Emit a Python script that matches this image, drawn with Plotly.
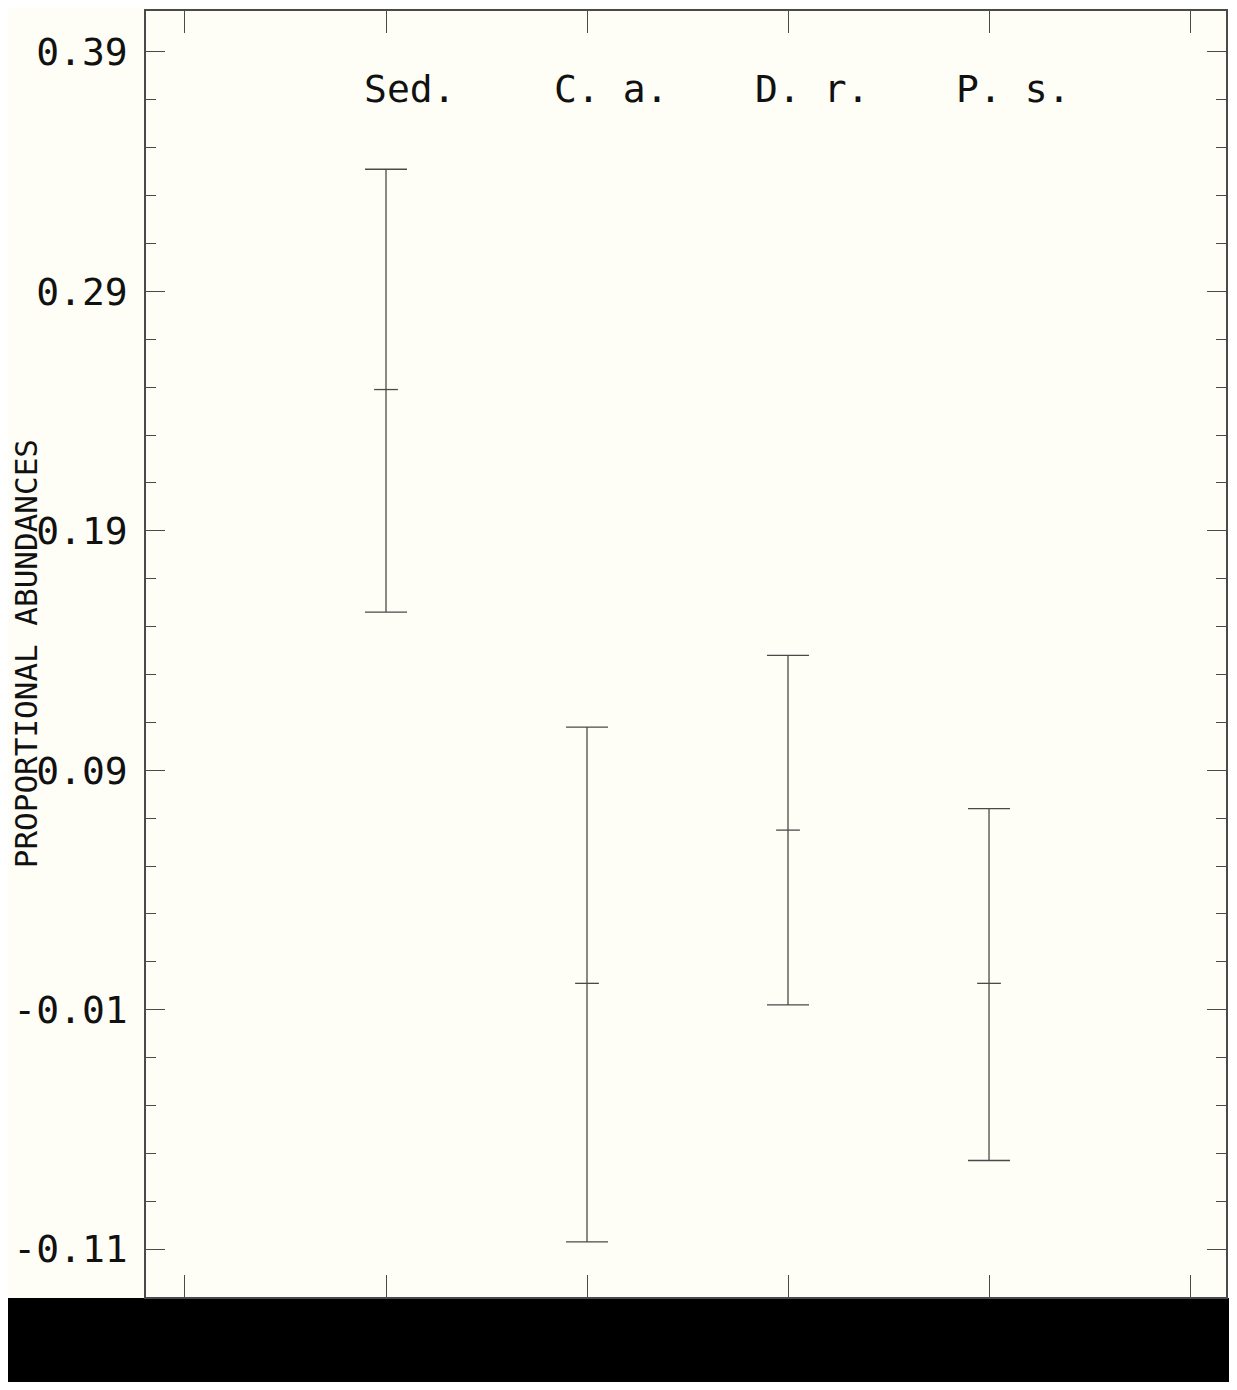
import plotly.graph_objects as go

# values
species = ["Sed.", "C. a.", "D. r.", "P. s."]
xpos = [1, 2, 3, 4]
means = [0.249, 0.001, 0.065, 0.001]
upper = [0.341, 0.108, 0.138, 0.074]
lower = [0.156, -0.107, -0.008, -0.073]

y_tickvals = [-0.11, -0.01, 0.09, 0.19, 0.29, 0.39]
y_ticktext = ["-0.11", "-0.01", "0.09", "0.19", "0.29", "0.39"]
x_tickvals = [0, 1, 2, 3, 4, 5]

ink = "#4a4a4a"
paper = "#fefef7"
mono = "DejaVu Sans Mono"

err_plus = [u - m for u, m in zip(upper, means)]
err_minus = [m - l for m, l in zip(means, lower)]

fig = go.Figure()
fig.add_trace(go.Scatter(
    x=xpos, y=means, mode="markers",
    marker=dict(symbol="line-ew", size=17, line=dict(color=ink, width=1.3)),
    error_y=dict(type="data", symmetric=False, array=err_plus, arrayminus=err_minus,
                 color=ink, thickness=1.3, width=21),
    showlegend=False, hoverinfo="skip"))

for x, name in zip(xpos, species):
    fig.add_annotation(x=x, y=0.3745, text=name, showarrow=False, xshift=24,
                       xanchor="center", yanchor="middle",
                       font=dict(family=mono, size=38, color="#111"))

# axis title sits right against the tick labels, as in the original plot
fig.add_annotation(xref="paper", yref="paper", x=-137 / 1082, y=0.5, xshift=-3,
                   text="PROPORTIONAL ABUNDANCES", textangle=-90, showarrow=False,
                   xanchor="left", yanchor="middle",
                   font=dict(family=mono, size=31, color="#111"))

# dark band at the bottom of the scan
fig.add_shape(type="rect", xref="paper", yref="paper", x0=-0.2, x1=1.1,
              y0=-0.08, y1=-0.0008, fillcolor="black", line_width=0, layer="below")

fig.update_xaxes(range=[-0.194, 5.179], tickmode="array", tickvals=x_tickvals,
                 showticklabels=False, ticks="inside", ticklen=22, tickwidth=1.3,
                 tickcolor=ink, showline=True, linecolor=ink, linewidth=1.5,
                 mirror="ticks", showgrid=False, zeroline=False)
fig.update_yaxes(range=[-0.13, 0.4071], tickmode="array", tickvals=y_tickvals,
                 ticktext=y_ticktext, ticks="inside", ticklen=19, tickwidth=1.3,
                 tickcolor=ink, showline=True, linecolor=ink, linewidth=1.5,
                 mirror="ticks", showgrid=False, zeroline=False,
                 ticklabelstandoff=9,
                 tickfont=dict(family=mono, size=38, color="#111"),
                 minor=dict(tickmode="linear", tick0=-0.11, dtick=0.02, ticks="inside",
                            ticklen=10, tickwidth=1.2, tickcolor=ink, showgrid=False))

# page body adds 8px around the figure, so keep it inside the window
fig.update_layout(width=1221, height=1374, paper_bgcolor=paper, plot_bgcolor=paper,
                  margin=dict(l=138, r=1, t=1, b=85))

fig.write_html("out.html")
